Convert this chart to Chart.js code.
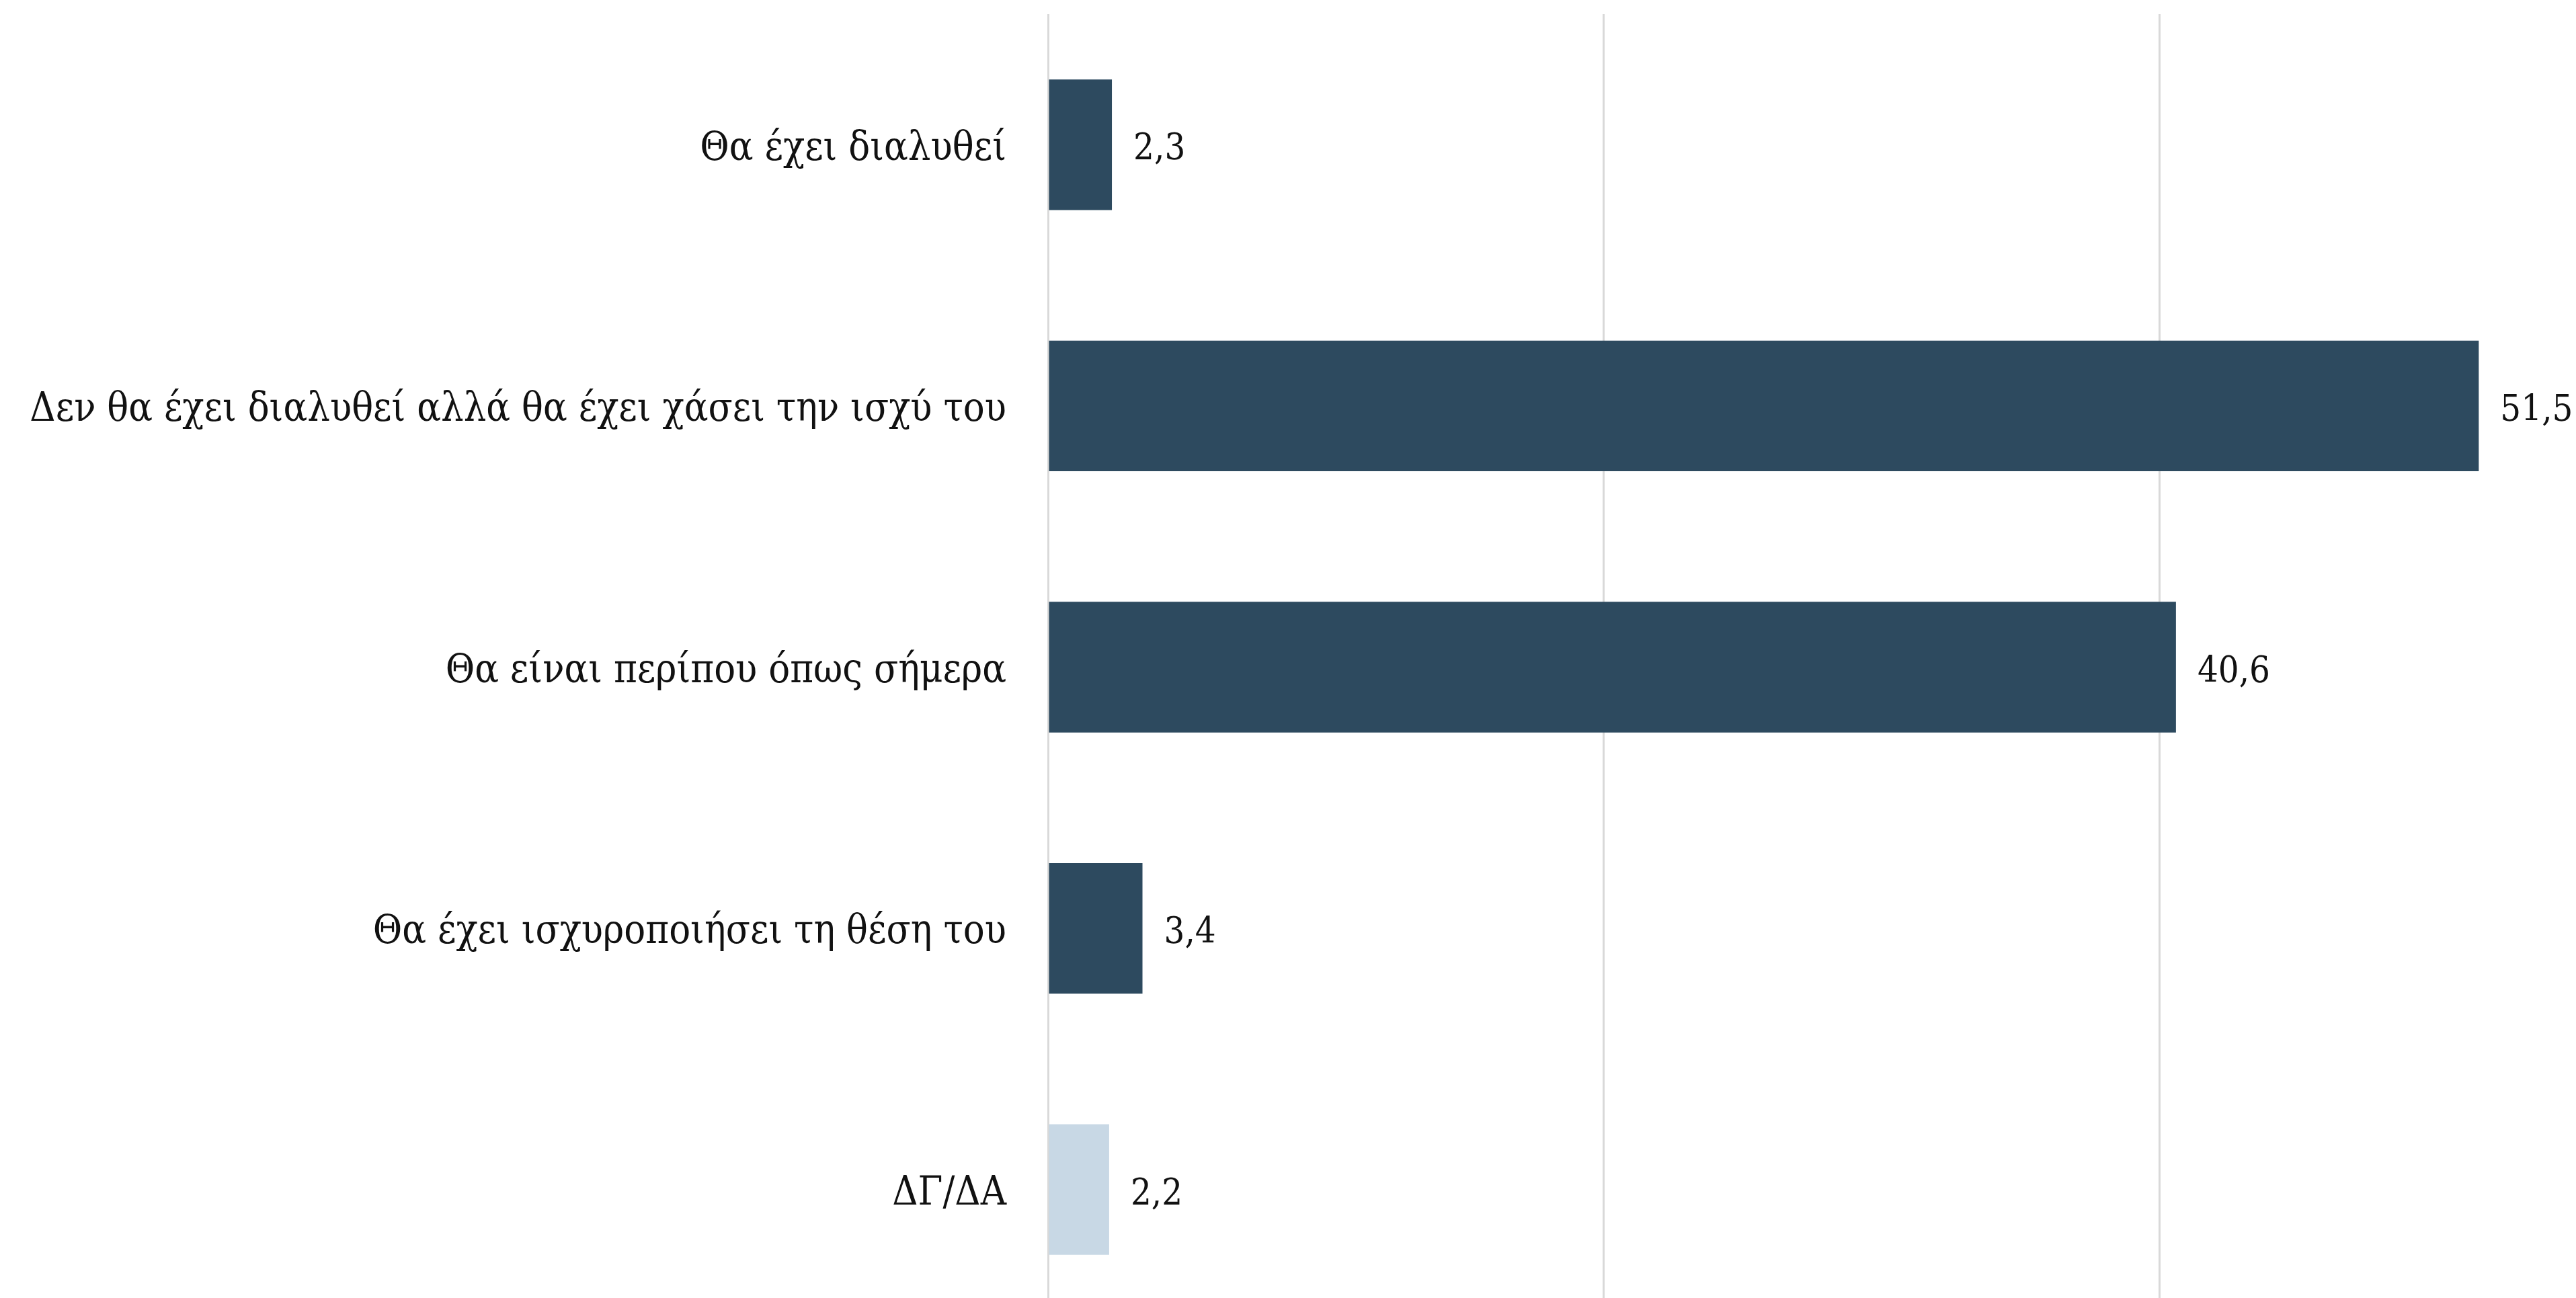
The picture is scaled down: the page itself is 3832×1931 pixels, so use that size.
<!DOCTYPE html>
<html>
<head>
<meta charset="utf-8">
<script src="https://cdn.jsdelivr.net/npm/chart.js@4.4.1/dist/chart.umd.min.js"></script>
<style>
  html, body { margin: 0; padding: 0; background: #fff; overflow: hidden; }
  #wrap { position: relative; width: 3832px; height: 1964px; }
</style>
</head>
<body>
<div id="wrap"><canvas id="chart"></canvas></div>
<script>
const categories = [
  'Θα έχει διαλυθεί',
  'Δεν θα έχει διαλυθεί αλλά θα έχει χάσει την ισχύ του',
  'Θα είναι περίπου όπως σήμερα',
  'Θα έχει ισχυροποιήσει τη θέση του',
  'ΔΓ/ΔΑ'
];
const values = [2.3, 51.5, 40.6, 3.4, 2.2];
const barColors = ['#2d4a5f', '#2d4a5f', '#2d4a5f', '#2d4a5f', '#c8d8e5'];
const gridValues = [0, 20, 40];

const labelFont = '"DejaVu Serif Condensed", "DejaVu Serif", serif';

// draws the value next to the end of each bar
const valueLabels = {
  id: 'valueLabels',
  afterDatasetsDraw(chart) {
    const ctx = chart.ctx;
    const meta = chart.getDatasetMeta(0);
    ctx.save();
    ctx.font = '54px ' + labelFont;
    ctx.fillStyle = '#111';
    ctx.textAlign = 'left';
    ctx.textBaseline = 'middle';
    meta.data.forEach((bar, i) => {
      const txt = values[i].toFixed(1).replace('.', ',');
      ctx.fillText(txt, bar.x + 32, bar.y + 8);
    });
    ctx.restore();
  }
};

const ctx = document.getElementById('chart').getContext('2d');
new Chart(ctx, {
  type: 'bar',
  data: {
    labels: categories,
    datasets: [{
      data: values,
      backgroundColor: barColors,
      borderWidth: 0,
      barPercentage: 0.5,
      categoryPercentage: 1
    }]
  },
  options: {
    indexAxis: 'y',
    responsive: true,
    maintainAspectRatio: false,
    animation: false,
    layout: { padding: { top: 21, right: 0, bottom: 0, left: 0 } },
    plugins: { legend: { display: false }, tooltip: { enabled: false } },
    scales: {
      x: {
        min: 0,
        max: 55,
        ticks: { display: false, stepSize: 20 },
        border: { display: false },
        grid: {
          drawTicks: false,
          lineWidth: 3,
          color: c => gridValues.includes(c.tick && c.tick.value) ? '#d9d9d9' : 'rgba(0,0,0,0)'
        }
      },
      y: {
        grid: { display: false },
        border: { display: false },
        ticks: {
          padding: 54,
          labelOffset: 7,
          color: '#111',
          font: { family: labelFont, size: 59 }
        },
        afterFit(scale) {
          scale.width = 1559;
          scale.paddingTop = 0;
          scale.paddingBottom = 0;
        }
      }
    }
  },
  plugins: [valueLabels]
});
</script>
</body>
</html>
